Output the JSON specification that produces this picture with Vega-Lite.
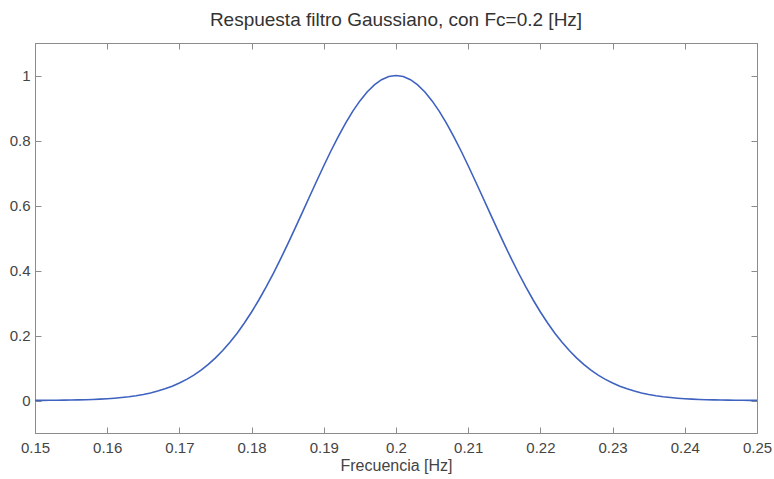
{
  "$schema": "https://vega.github.io/schema/vega-lite/v6.json",
  "autosize": "none",
  "width": 722,
  "height": 390,
  "padding": {"left": 35, "top": 43, "right": 17, "bottom": 46},
  "background": "white",
  "config": {
    "view": {"stroke": "#8c8c8c", "strokeWidth": 1},
    "font": "Liberation Sans",
    "axis": {
      "grid": false,
      "domainColor": "#8c8c8c",
      "tickColor": "#8c8c8c",
      "labelColor": "#444444",
      "titleColor": "#444444",
      "labelFont": "Liberation Sans",
      "titleFont": "Liberation Sans",
      "labelFontSize": 15,
      "titleFontSize": 16,
      "titleFontWeight": "normal",
      "tickSize": -6
    }
  },
  "title": {
    "text": "Respuesta filtro Gaussiano, con Fc=0.2 [Hz]",
    "font": "Liberation Sans",
    "fontSize": 19,
    "fontWeight": "normal",
    "color": "#333333",
    "offset": 13
  },
  "data": {
    "values": [
      {"f": 0.150, "a": 0.00029},
      {"f": 0.151, "a": 0.00041},
      {"f": 0.152, "a": 0.00056},
      {"f": 0.153, "a": 0.00076},
      {"f": 0.154, "a": 0.00103},
      {"f": 0.155, "a": 0.00138},
      {"f": 0.156, "a": 0.00184},
      {"f": 0.157, "a": 0.00245},
      {"f": 0.158, "a": 0.00323},
      {"f": 0.159, "a": 0.00423},
      {"f": 0.160, "a": 0.00550},
      {"f": 0.161, "a": 0.00711},
      {"f": 0.162, "a": 0.00914},
      {"f": 0.163, "a": 0.01166},
      {"f": 0.164, "a": 0.01478},
      {"f": 0.165, "a": 0.01862},
      {"f": 0.166, "a": 0.02331},
      {"f": 0.167, "a": 0.02898},
      {"f": 0.168, "a": 0.03580},
      {"f": 0.169, "a": 0.04394},
      {"f": 0.170, "a": 0.05358},
      {"f": 0.171, "a": 0.06490},
      {"f": 0.172, "a": 0.07812},
      {"f": 0.173, "a": 0.09343},
      {"f": 0.174, "a": 0.11101},
      {"f": 0.175, "a": 0.13103},
      {"f": 0.176, "a": 0.15366},
      {"f": 0.177, "a": 0.17904},
      {"f": 0.178, "a": 0.20723},
      {"f": 0.179, "a": 0.23835},
      {"f": 0.180, "a": 0.27233},
      {"f": 0.181, "a": 0.30919},
      {"f": 0.182, "a": 0.34868},
      {"f": 0.183, "a": 0.39073},
      {"f": 0.184, "a": 0.43497},
      {"f": 0.185, "a": 0.48112},
      {"f": 0.186, "a": 0.52869},
      {"f": 0.187, "a": 0.57720},
      {"f": 0.188, "a": 0.62608},
      {"f": 0.189, "a": 0.67469},
      {"f": 0.190, "a": 0.72237},
      {"f": 0.191, "a": 0.76846},
      {"f": 0.192, "a": 0.81213},
      {"f": 0.193, "a": 0.85271},
      {"f": 0.194, "a": 0.88953},
      {"f": 0.195, "a": 0.92192},
      {"f": 0.196, "a": 0.94930},
      {"f": 0.197, "a": 0.97116},
      {"f": 0.198, "a": 0.98708},
      {"f": 0.199, "a": 0.99675},
      {"f": 0.200, "a": 1.00000},
      {"f": 0.201, "a": 0.99675},
      {"f": 0.202, "a": 0.98708},
      {"f": 0.203, "a": 0.97116},
      {"f": 0.204, "a": 0.94930},
      {"f": 0.205, "a": 0.92192},
      {"f": 0.206, "a": 0.88953},
      {"f": 0.207, "a": 0.85271},
      {"f": 0.208, "a": 0.81213},
      {"f": 0.209, "a": 0.76846},
      {"f": 0.210, "a": 0.72237},
      {"f": 0.211, "a": 0.67469},
      {"f": 0.212, "a": 0.62608},
      {"f": 0.213, "a": 0.57720},
      {"f": 0.214, "a": 0.52869},
      {"f": 0.215, "a": 0.48112},
      {"f": 0.216, "a": 0.43497},
      {"f": 0.217, "a": 0.39073},
      {"f": 0.218, "a": 0.34868},
      {"f": 0.219, "a": 0.30919},
      {"f": 0.220, "a": 0.27233},
      {"f": 0.221, "a": 0.23835},
      {"f": 0.222, "a": 0.20723},
      {"f": 0.223, "a": 0.17904},
      {"f": 0.224, "a": 0.15366},
      {"f": 0.225, "a": 0.13103},
      {"f": 0.226, "a": 0.11101},
      {"f": 0.227, "a": 0.09343},
      {"f": 0.228, "a": 0.07812},
      {"f": 0.229, "a": 0.06490},
      {"f": 0.230, "a": 0.05358},
      {"f": 0.231, "a": 0.04394},
      {"f": 0.232, "a": 0.03580},
      {"f": 0.233, "a": 0.02898},
      {"f": 0.234, "a": 0.02331},
      {"f": 0.235, "a": 0.01862},
      {"f": 0.236, "a": 0.01478},
      {"f": 0.237, "a": 0.01166},
      {"f": 0.238, "a": 0.00914},
      {"f": 0.239, "a": 0.00711},
      {"f": 0.240, "a": 0.00550},
      {"f": 0.241, "a": 0.00423},
      {"f": 0.242, "a": 0.00323},
      {"f": 0.243, "a": 0.00245},
      {"f": 0.244, "a": 0.00184},
      {"f": 0.245, "a": 0.00138},
      {"f": 0.246, "a": 0.00103},
      {"f": 0.247, "a": 0.00076},
      {"f": 0.248, "a": 0.00056},
      {"f": 0.249, "a": 0.00041},
      {"f": 0.250, "a": 0.00029}
    ]
  },
  "resolve": {"axis": {"x": "independent", "y": "independent"}},
  "layer": [
    {
      "mark": {"type": "line", "color": "#3f62c0", "strokeWidth": 1.6, "clip": true},
      "encoding": {
        "x": {
          "field": "f", "type": "quantitative",
          "scale": {"domain": [0.15, 0.25], "nice": false, "zero": false},
          "axis": {
            "title": "Frecuencia [Hz]",
            "values": [0.15, 0.16, 0.17, 0.18, 0.19, 0.2, 0.21, 0.22, 0.23, 0.24, 0.25],
            "format": "~g",
            "labelPadding": 13,
            "titlePadding": 2,
            "labelFlush": false
          }
        },
        "y": {
          "field": "a", "type": "quantitative",
          "scale": {"domain": [-0.1, 1.1], "nice": false, "zero": false},
          "axis": {
            "title": null,
            "values": [0, 0.2, 0.4, 0.6, 0.8, 1],
            "format": "~g",
            "labelPadding": 11,
            "labelFlush": false
          }
        }
      }
    },
    {
      "mark": {"type": "line", "opacity": 0},
      "encoding": {
        "x": {
          "field": "f", "type": "quantitative",
          "axis": {
            "orient": "top", "title": null, "labels": false,
            "values": [0.15, 0.16, 0.17, 0.18, 0.19, 0.2, 0.21, 0.22, 0.23, 0.24, 0.25]
          }
        },
        "y": {
          "field": "a", "type": "quantitative",
          "axis": {
            "orient": "right", "title": null, "labels": false,
            "values": [0, 0.2, 0.4, 0.6, 0.8, 1]
          }
        }
      }
    }
  ]
}
